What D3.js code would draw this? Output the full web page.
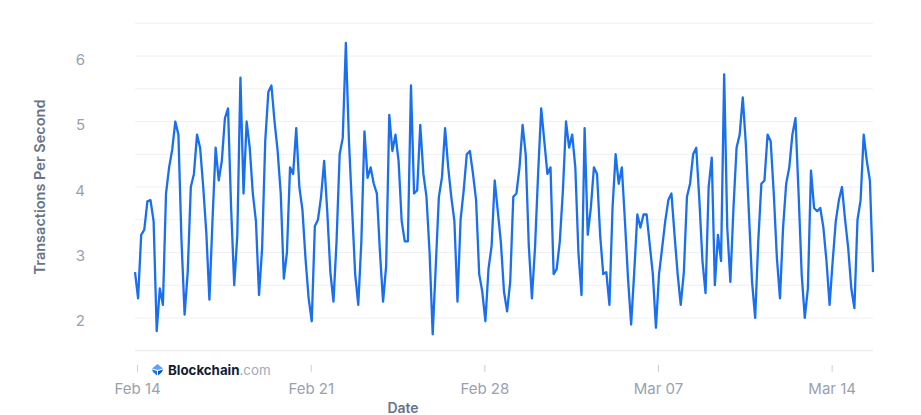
<!DOCTYPE html>
<html>
<head>
<meta charset="utf-8">
<script src="https://cdn.jsdelivr.net/npm/d3@7"></script>
<style>
  html, body { margin: 0; padding: 0; background: #ffffff; }
  svg { display: block; font-family: Inter, "Noto Sans", sans-serif; }
</style>
</head>
<body>
<svg id="chart" width="921" height="415"></svg>
<script>
// ---- data ----
const startTime = "2023-02-13T22:00:00Z";
const stepHours = 3;
const tpsValues = [
  2.7, 2.3, 3.27, 3.35, 3.78, 3.8, 3.48, 1.8, 2.45, 2.2,
  3.9, 4.3, 4.57, 5.0, 4.8, 3.17, 2.05, 2.7, 4.0, 4.2,
  4.8, 4.6, 4.0, 3.3, 2.28, 3.5, 4.6, 4.1, 4.4, 5.05,
  5.2, 3.68, 2.5, 3.27, 5.67, 3.9, 5.0, 4.6, 3.9, 3.48,
  2.35, 3.07, 4.7, 5.45, 5.55, 5.0, 4.55, 3.9, 2.6, 3.0,
  4.3, 4.2, 4.9, 4.0, 3.65, 2.9, 2.3, 1.95, 3.4, 3.5,
  3.85, 4.4, 3.63, 2.7, 2.25, 3.17, 4.5, 4.75, 6.2, 4.7,
  3.68, 2.67, 2.2, 3.17, 4.85, 4.14, 4.3, 4.05, 3.9, 3.0,
  2.25, 2.8, 5.1, 4.55, 4.8, 4.4, 3.48, 3.17, 3.17, 5.55,
  3.9, 3.95, 4.95, 4.2, 3.85, 3.0, 1.75, 2.8, 3.85, 4.15,
  4.9, 4.3, 3.85, 3.48, 2.25, 3.5, 3.95, 4.5, 4.55, 4.2,
  3.8, 2.67, 2.4, 1.95, 2.75, 3.1, 4.1, 3.63, 3.15, 2.4,
  2.1, 2.55, 3.85, 3.9, 4.3, 4.95, 4.5, 3.1, 2.3, 3.07,
  4.2, 5.2, 4.7, 4.2, 4.3, 2.67, 2.75, 3.17, 3.95, 5.0,
  4.6, 4.8, 4.3, 3.0, 2.35, 4.9, 3.27, 3.68, 4.3, 4.2,
  3.27, 2.67, 2.7, 2.2, 3.68, 4.5, 4.05, 4.3, 3.48, 2.6,
  1.9, 2.7, 3.58, 3.38, 3.58, 3.58, 3.12, 2.67, 1.85, 2.67,
  3.07, 3.48, 3.8, 3.9, 3.27, 2.67, 2.2, 2.7, 3.85, 4.05,
  4.5, 4.6, 3.8, 2.87, 2.38, 4.0, 4.45, 2.5, 3.27, 2.87,
  5.72, 3.38, 2.55, 3.68, 4.6, 4.8, 5.37, 4.65, 3.58, 2.55,
  2.0, 3.17, 4.05, 4.1, 4.8, 4.7, 3.9, 2.92, 2.3, 3.38,
  4.05, 4.3, 4.8, 5.05, 3.9, 2.67, 2.0, 2.45, 4.25, 3.68,
  3.63, 3.68, 3.38, 2.87, 2.2, 2.87, 3.48, 3.8, 4.0, 3.5,
  3.07, 2.45, 2.15, 3.5, 3.8, 4.8, 4.4, 4.1, 2.7
];
const yGridValues = [1.5, 2, 2.5, 3, 3.5, 4, 4.5, 5, 5.5, 6, 6.5];
const yTickLabels = [2, 3, 4, 5, 6];
const xTickDates = ["2023-02-14", "2023-02-21", "2023-02-28", "2023-03-07", "2023-03-14"];
const yTitle = "Transactions Per Second";
const xTitle = "Date";

// ---- build ----
const t0 = new Date(startTime).getTime();
const data = tpsValues.map((v, i) => ({ t: new Date(t0 + i * stepHours * 3600 * 1000), v }));

const svg = d3.select("#chart");
const plot = { left: 135, right: 873, top: 23.3, bottom: 350.7 };

const x = d3.scaleUtc()
  .domain(d3.extent(data, d => d.t))
  .range([plot.left, plot.right]);
const y = d3.scaleLinear()
  .domain([1.5, 6.5])
  .range([plot.bottom, plot.top]);

// grid
svg.append("g").selectAll("line")
  .data(yGridValues)
  .join("line")
  .attr("x1", plot.left).attr("x2", plot.right)
  .attr("y1", d => y(d)).attr("y2", d => y(d))
  .attr("stroke", d => d === 1.5 ? "#e3e6eb" : "#eef0f3")
  .attr("stroke-width", 1);

// y labels
svg.append("g").selectAll("text")
  .data(yTickLabels)
  .join("text")
  .attr("x", 85)
  .attr("y", d => y(d) + 8.5)
  .attr("text-anchor", "end")
  .attr("fill", "#98a1b2")
  .attr("font-size", 15)
  .text(d => d);

// x axis ticks (library axis)
const xAxis = d3.axisBottom(x)
  .tickValues(xTickDates.map(s => new Date(s + "T00:00:00Z")))
  .tickFormat(d3.utcFormat("%b %d"))
  .tickSize(7)
  .tickPadding(11);
const gx = svg.append("g")
  .attr("transform", `translate(0, ${365})`)
  .call(xAxis);
gx.select(".domain").remove();
gx.selectAll(".tick line").attr("stroke", "#c9ced6");
gx.selectAll(".tick text")
  .attr("fill", "#98a1b2")
  .attr("font-size", 15)
  .attr("font-family", "Inter, 'Noto Sans', sans-serif");

// titles
svg.append("text")
  .attr("transform", `translate(45, 187) rotate(-90)`)
  .attr("text-anchor", "middle")
  .attr("fill", "#677489")
  .attr("font-size", 14.5)
  .attr("font-weight", 600)
  .text(yTitle);

svg.append("text")
  .attr("x", 403).attr("y", 412.5)
  .attr("text-anchor", "middle")
  .attr("fill", "#677489")
  .attr("font-size", 14)
  .attr("font-weight", 600)
  .text(xTitle);

// line
const line = d3.line().x(d => x(d.t)).y(d => y(d.v));
svg.append("path")
  .datum(data)
  .attr("d", line)
  .attr("fill", "none")
  .attr("stroke", "#1a6ff0")
  .attr("stroke-width", 2.3)
  .attr("stroke-linejoin", "round");

// Blockchain.com watermark
const logo = svg.append("g").attr("transform", "translate(157.5, 369.5)");
logo.append("path").attr("d", "M0,-5.5 L5.5,-1 L0,0.5 L-5.5,-1 Z").attr("fill", "#5fa3f8");
logo.append("path").attr("d", "M-5.5,0 L-0.5,1.5 L-0.5,6 L-4.5,2.5 Z").attr("fill", "#1b6ff0");
logo.append("path").attr("d", "M5.5,0 L0.5,1.5 L0.5,6 L4.5,2.5 Z").attr("fill", "#0c55c9");
const wm = svg.append("text")
  .attr("x", 168).attr("y", 375)
  .attr("font-size", 13.3)
  .attr("font-weight", 700);
wm.append("tspan").attr("fill", "#121d33").text("Blockchain");
wm.append("tspan").attr("fill", "#a3aab8").attr("font-weight", 400).text(".com");
</script>
</body>
</html>
